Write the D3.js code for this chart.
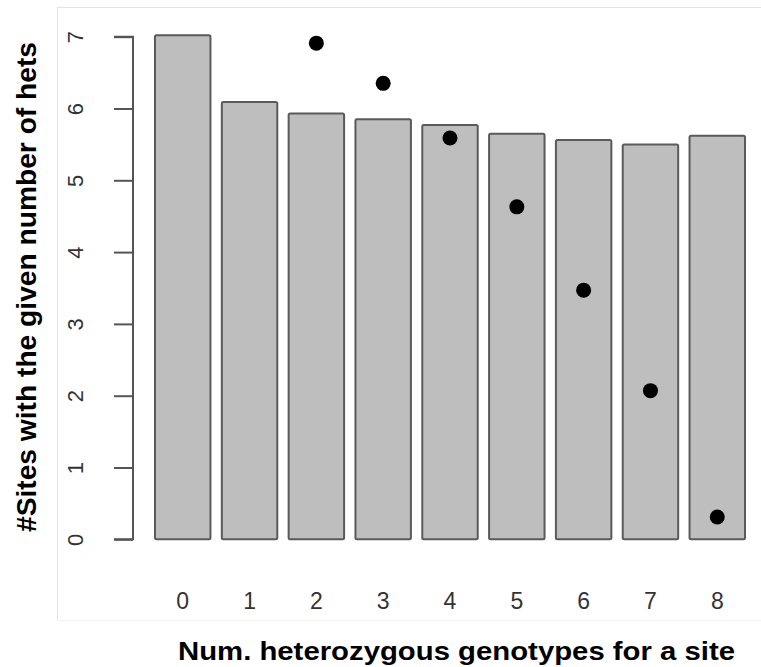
<!DOCTYPE html>
<html>
<head>
<meta charset="utf-8">
<script src="https://cdn.jsdelivr.net/npm/d3@7"></script>
<style>
  html, body { margin: 0; padding: 0; background: #fff; }
  svg { display: block; font-family: "Liberation Sans", Arial, sans-serif; }
</style>
</head>
<body>
<svg id="chart" width="761" height="667"></svg>
<script>
// Number of heterozygous genotypes per site
const categories = ["0", "1", "2", "3", "4", "5", "6", "7", "8"];
// Observed sites (bars)
const observed = [7.02, 6.09, 5.93, 5.85, 5.77, 5.65, 5.56, 5.50, 5.62];
// Expected sites (points); none shown for 0 and 1
const expected = [null, null, 6.91, 6.35, 5.59, 4.63, 3.47, 2.07, 0.31];
const yTicks = [0, 1, 2, 3, 4, 5, 6, 7];

const svg = d3.select("#chart");

// light panel frame
const frame = svg.append("g").attr("stroke", "#e2e2e2").attr("stroke-width", 1).attr("fill", "none");
frame.append("line").attr("x1", 57).attr("x2", 761).attr("y1", 7.5).attr("y2", 7.5);
frame.append("line").attr("x1", 57.5).attr("x2", 57.5).attr("y1", 7).attr("y2", 620);
frame.append("line").attr("x1", 57).attr("x2", 761).attr("y1", 620.5).attr("y2", 620.5).attr("stroke", "#f3f3f3");

const x = d3.scaleBand()
  .domain(categories)
  .range([155, 745])
  .paddingInner(0.17)
  .paddingOuter(0);

const y = d3.scaleLinear()
  .domain([0, 7])
  .range([539.3, 36.7]);

// bars
svg.append("g")
  .selectAll("rect")
  .data(observed)
  .join("rect")
  .attr("x", (d, i) => x(categories[i]))
  .attr("y", d => y(d))
  .attr("width", x.bandwidth())
  .attr("height", d => y(0) - y(d))
  .attr("fill", "#bebebe")
  .attr("stroke", "#5a5a5a")
  .attr("stroke-width", 2)
  .attr("rx", 1.5);

// points
svg.append("g")
  .selectAll("circle")
  .data(expected.map((v, i) => ({ v, c: categories[i] })).filter(d => d.v !== null))
  .join("circle")
  .attr("cx", d => x(d.c) + x.bandwidth() / 2)
  .attr("cy", d => y(d.v))
  .attr("r", 7.5)
  .attr("fill", "#000");

// y axis
const yAxis = d3.axisLeft(y).tickValues(yTicks).tickSize(19).tickFormat(d3.format("d"));
const gy = svg.append("g").attr("transform", "translate(133,0)").call(yAxis);
gy.select(".domain").attr("stroke", "#555").attr("stroke-width", 2).attr("d", `M-19,${y(0)}H0V${y(7)}H-19`);
gy.selectAll(".tick line").attr("stroke", "#555").attr("stroke-width", 2);
gy.selectAll(".tick text")
  .attr("fill", "#333")
  .attr("font-size", 22)
  .attr("text-anchor", "middle")
  .attr("x", null).attr("dy", null)
  .attr("transform", "translate(-50,0) rotate(-90)");

// x tick labels
const xAxis = d3.axisBottom(x).tickSize(0);
const gx = svg.append("g").attr("transform", "translate(0,609)").call(xAxis);
gx.select(".domain").remove();
gx.selectAll(".tick text")
  .attr("fill", "#333")
  .attr("font-size", 23)
  .attr("y", 0).attr("dy", null);

// axis titles
svg.append("text")
  .attr("x", 178).attr("y", 660)
  .attr("font-size", 26).attr("font-weight", "bold").attr("fill", "#000")
  .attr("textLength", 557).attr("lengthAdjust", "spacingAndGlyphs")
  .text("Num. heterozygous genotypes for a site");

svg.append("text")
  .attr("transform", "translate(36,532) rotate(-90)")
  .attr("font-size", 28).attr("font-weight", "bold").attr("fill", "#000")
  .attr("textLength", 490).attr("lengthAdjust", "spacingAndGlyphs")
  .text("#Sites with the given number of hets");
</script>
</body>
</html>
